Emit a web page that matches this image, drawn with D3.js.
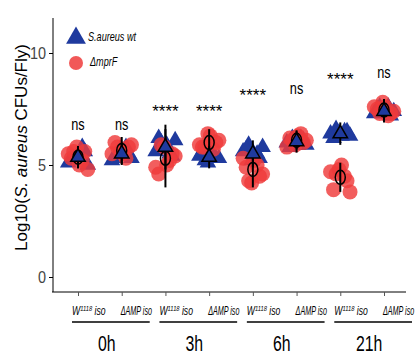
<!DOCTYPE html>
<html>
<head>
<meta charset="utf-8">
<script src="https://cdn.jsdelivr.net/npm/d3@7"></script>
<style>
  body { margin: 0; background: #fff; }
  text { font-family: "Liberation Sans", Arial, sans-serif; }
</style>
</head>
<body>
<div class="chart"></div>
<script>
// timepoints and strains
const timepoints = ['0h', '3h', '6h', '21h'];
const strains = ['W1118', 'ΔAMP'];

// S. aureus wt points per column (log10 CFU/fly)
const wtPoints = [
  [5.1, 5.3, 5.5, 5.6, 5.2, 5.4, 5.8, 5.0],
  [5.2, 5.4, 5.6, 5.5, 5.3, 5.7, 5.8, 5.3],
  [5.6, 6.0, 5.9, 5.4, 6.2, 5.7, 5.5, 6.1],
  [5.4, 5.2, 5.5, 5.3, 5.6, 5.1, 5.4, 5.3],
  [5.6, 5.9, 5.4, 5.3, 5.7, 5.2, 5.5, 5.8],
  [6.0, 6.2, 5.9, 6.1, 5.8, 6.0, 6.2, 5.9],
  [6.4, 6.6, 6.3, 6.5, 6.2, 6.4, 6.5, 6.3],
  [7.3, 7.6, 7.4, 7.2, 7.5, 7.3, 7.6, 7.4]
];
// ΔmprF points per column
const mprfPoints = [
  [5.0, 5.6, 5.3, 5.8, 5.2, 4.8, 5.5, 5.6],
  [5.5, 5.8, 6.0, 5.6, 5.3, 5.9, 5.5, 5.8],
  [5.0, 5.5, 4.6, 5.8, 5.2, 5.4, 4.9, 5.9],
  [6.3, 6.0, 5.8, 6.4, 5.7, 6.1, 5.9, 5.8],
  [5.2, 4.5, 4.9, 4.2, 5.0, 4.6, 5.3, 4.3],
  [6.3, 6.0, 6.2, 5.9, 6.4, 6.1, 5.8, 6.1],
  [5.0, 4.3, 3.9, 4.8, 4.5, 3.8, 4.7, 4.6],
  [7.6, 7.3, 7.5, 7.8, 7.2, 7.4, 7.6, 7.3]
];
// means and error bars
const wtMean = [5.35, 5.5, 5.8, 5.35, 5.5, 6.05, 6.4, 7.4];
const wtErr = [0.5, 0.5, 1.0, 0.5, 0.6, 0.5, 0.5, 0.5];
const mprfMean = [5.35, 5.65, 5.3, 6.0, 4.8, 6.1, 4.45, 7.45];
const mprfErr = [0.5, 0.6, 1.3, 0.6, 0.8, 0.4, 0.65, 0.5];

const sigLabels = ['ns', 'ns', '****', '****', '****', 'ns', '****', 'ns'];
const sigY = [6.8, 6.8, 7.6, 7.6, 8.3, 8.4, 9.0, 9.1];
const yTicks = [0, 5, 10];

const width = 415, height = 356;
const margin = { top: 8, right: 10, bottom: 64, left: 53 };

const svg = d3.select('.chart')
  .append('svg')
    .attr('width', width)
    .attr('height', height);

const cols = d3.range(8);
const xScale = d3.scalePoint()
  .domain(cols)
  .range([78, 384]);

const yScale = d3.scaleLinear()
  .domain([0, 10])
  .range([277, 53]);

const axisBottomY = 292;

// condensed text helper (no narrow font available)
const narrow = (sel, x, y, sx) => sel.attr('transform', `translate(${x},${y}) scale(${sx},1)`);

// y axis
const yAxis = d3.axisLeft(yScale).tickValues(yTicks).tickSize(4).tickPadding(3);
const gy = svg.append('g')
  .attr('transform', `translate(${margin.left},0)`)
  .call(yAxis);
gy.select('.domain').attr('d', `M0,18V${axisBottomY}`).attr('stroke', '#000');
gy.selectAll('.tick line').attr('stroke', '#000');
gy.selectAll('.tick text')
  .attr('font-size', 17)
  .attr('fill', '#444')
  .attr('transform', 'scale(0.85,1)')
  .attr('x', -7 / 0.85);

// x axis
const xAxis = d3.axisBottom(xScale).tickSize(4).tickFormat('');
const gx = svg.append('g')
  .attr('transform', `translate(0,${axisBottomY})`)
  .call(xAxis);
gx.select('.domain').attr('d', `M${margin.left - 1},0H406`).attr('stroke', '#000');
gx.selectAll('.tick line').attr('stroke', '#555');

// y label
const ylab = svg.append('text')
  .attr('transform', `translate(27,${(20 + 275) / 2}) rotate(-90)`)
  .attr('text-anchor', 'middle')
  .attr('font-size', 17);
ylab.append('tspan').text('Log10(');
ylab.append('tspan').attr('font-style', 'italic').text('S. aureus');
ylab.append('tspan').text(' CFUs/Fly)');

// strain labels under each tick
cols.forEach(i => {
  const t = svg.append('text')
    .attr('font-size', 12)
    .attr('font-style', 'italic');
  if (i % 2 === 0) {
    narrow(t, xScale(i) - 6, 315, 0.72);
    t.append('tspan').text('W');
    t.append('tspan').attr('font-size', 8).attr('dy', -4).text('1118');
    t.append('tspan').attr('dy', 4).text(' iso');
  } else {
    narrow(t, xScale(i) - 1, 315, 0.6);
    t.text('ΔAMP iso');
  }
});

// timepoint brackets
timepoints.forEach((tp, g) => {
  const x0 = xScale(g * 2) - 6, x1 = xScale(g * 2 + 1) + 28;
  svg.append('line')
    .attr('x1', x0).attr('x2', x1)
    .attr('y1', 322).attr('y2', 322)
    .attr('stroke', '#000').attr('stroke-width', 1.5);
  const t = svg.append('text')
    .attr('text-anchor', 'middle')
    .attr('font-size', 22)
    .text(tp);
  narrow(t, (x0 + x1) / 2 - 4, 351, 0.72);
});

const blue = '#1f3a9e';
const red = '#ef3b3b';
const tri = d3.symbol().type(d3.symbolTriangle);
const jitter = j => ((j % 4) - 1.5) * 5.5 + (j < 4 ? -1.5 : 1.5);

// points
cols.forEach(i => {
  svg.append('g').selectAll('path')
    .data(wtPoints[i])
    .enter()
    .append('path')
      .attr('d', tri.size(120)())
      .attr('transform', (d, j) => `translate(${xScale(i) + jitter(j)},${yScale(d)})`)
      .attr('fill', blue);
  svg.append('g').selectAll('circle')
    .data(mprfPoints[i])
    .enter()
    .append('circle')
      .attr('cx', (d, j) => xScale(i) + jitter((j + 2) % 8))
      .attr('cy', d => yScale(d))
      .attr('r', 7.5)
      .attr('fill', red)
      .attr('fill-opacity', 0.82);
});

// error bars and means
cols.forEach(i => {
  const x = xScale(i);
  [[mprfMean[i], mprfErr[i]], [wtMean[i], wtErr[i]]].forEach(([m, e]) => {
    svg.append('line')
      .attr('x1', x).attr('x2', x)
      .attr('y1', yScale(m + e)).attr('y2', yScale(m - e))
      .attr('stroke', '#000').attr('stroke-width', 2);
  });
  svg.append('ellipse')
    .attr('cx', x).attr('cy', yScale(mprfMean[i]))
    .attr('rx', 5).attr('ry', 7)
    .attr('fill', 'none')
    .attr('stroke', '#000').attr('stroke-width', 1.5);
  svg.append('path')
    .attr('d', tri.size(90)())
    .attr('transform', `translate(${x},${yScale(wtMean[i])})`)
    .attr('fill', blue)
    .attr('stroke', '#000').attr('stroke-width', 1.5);
});

// significance labels
cols.forEach(i => {
  const ns = sigLabels[i] === 'ns';
  const t = svg.append('text')
    .attr('text-anchor', 'middle')
    .attr('font-size', 17)
    .text(sigLabels[i]);
  narrow(t, xScale(i), yScale(sigY[i]) + (ns ? 5 : 10), ns ? 0.75 : 1);
});

// legend
svg.append('path')
  .attr('d', tri.size(170)())
  .attr('transform', 'translate(76,38)')
  .attr('fill', blue);
narrow(svg.append('text')
  .attr('font-size', 13).attr('font-style', 'italic')
  .text('S.aureus wt'), 88, 41, 0.7);
svg.append('circle')
  .attr('cx', 76).attr('cy', 63).attr('r', 7)
  .attr('fill', red).attr('fill-opacity', 0.85);
narrow(svg.append('text')
  .attr('font-size', 13).attr('font-style', 'italic')
  .text('ΔmprF'), 90, 66, 0.7);
</script>
</body>
</html>
